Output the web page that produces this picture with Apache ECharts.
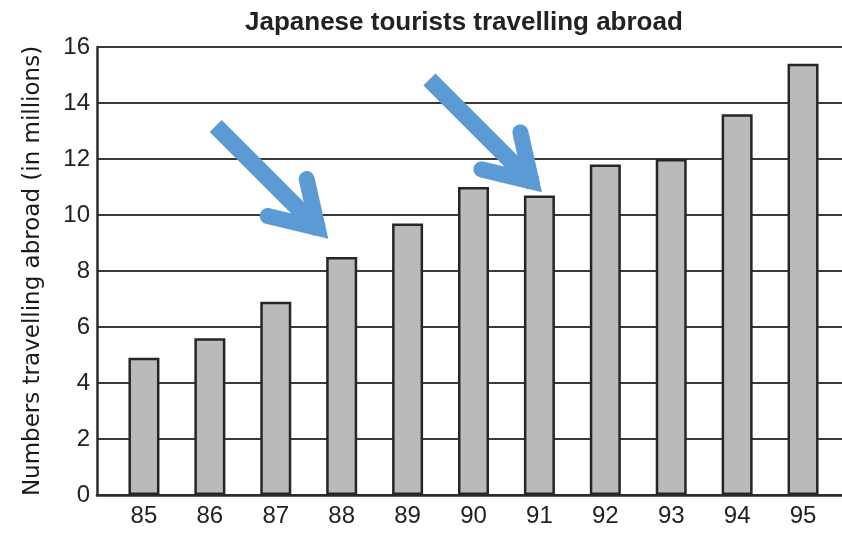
<!DOCTYPE html>
<html>
<head>
<meta charset="utf-8">
<script src="https://cdn.jsdelivr.net/npm/echarts@6/dist/echarts.min.js"></script>
<style>
  html, body { margin: 0; padding: 0; background: #ffffff; }
  #chart { width: 842px; height: 536px; }
</style>
</head>
<body>
<div id="chart"></div>
<script>
// ---- data ----
const titleText = 'Japanese tourists travelling abroad';
const yAxisName = 'Numbers travelling abroad (in millions)';
const years = ['85', '86', '87', '88', '89', '90', '91', '92', '93', '94', '95'];
const tourists = [4.9, 5.6, 6.9, 8.5, 9.7, 11.0, 10.7, 11.8, 12.0, 13.6, 15.4];
const yMin = 0;
const yMax = 16;
const yStep = 2;
const arrowTargets = ['88', '91'];

// ---- chart ----
const chart = echarts.init(document.getElementById('chart'), null, { renderer: 'canvas' });
const ink = '#2b2b2b';
const gridTop = 47, gridBottom = 41;

chart.setOption({
  backgroundColor: '#ffffff',
  animation: false,
  title: {
    text: titleText,
    left: 240,
    top: 5,
    textStyle: { fontFamily: 'Liberation Sans', fontSize: 26, fontWeight: 'bold', color: '#222' }
  },
  grid: [
    { left: 97, right: 0, top: gridTop, bottom: gridBottom },
    { left: 111, right: 6, top: gridTop, bottom: gridBottom }
  ],
  xAxis: [
    {
      gridIndex: 0, type: 'value', min: 0, max: 1,
      axisLine: { show: true, lineStyle: { color: ink, width: 2.5 } },
      axisTick: { show: false }, axisLabel: { show: false }, splitLine: { show: false }
    },
    {
      gridIndex: 1, type: 'category', data: years,
      axisLine: { show: false }, axisTick: { show: false },
      axisLabel: { margin: 9, fontFamily: 'Liberation Sans', fontSize: 24, color: '#222' }
    }
  ],
  yAxis: [
    {
      gridIndex: 0, type: 'value', min: yMin, max: yMax, interval: yStep,
      name: yAxisName, nameLocation: 'middle', nameGap: 52, nameRotate: 90,
      nameTextStyle: { fontFamily: 'DejaVu Sans', fontSize: 23, color: '#1a1a1a' },
      axisLine: { show: true, lineStyle: { color: ink, width: 2.5 } },
      axisTick: { show: false },
      axisLabel: { margin: 7, fontFamily: 'Liberation Sans', fontSize: 24, color: '#222' },
      splitLine: { show: true, lineStyle: { color: '#3a3a3a', width: 2 } }
    },
    { gridIndex: 1, type: 'value', min: yMin, max: yMax, interval: yStep, show: false, splitLine: { show: false } }
  ],
  series: [{
    type: 'bar',
    xAxisIndex: 1, yAxisIndex: 1,
    data: tourists,
    barWidth: 31,
    itemStyle: { color: '#bababa', borderColor: '#262626', borderWidth: 2.5 }
  }]
});

// ---- annotation arrows, anchored to the bars they point at ----
const tipOffsets = [[-12, -17], [4, -2]];
const arrowColor = '#5b9bd5';
const graphics = [];
arrowTargets.forEach(function (cat, k) {
  const idx = years.indexOf(cat);
  const p = chart.convertToPixel({ xAxisIndex: 1, yAxisIndex: 1 }, [idx, tourists[idx]]);
  const tx = p[0] + tipOffsets[k][0];
  const ty = p[1] + tipOffsets[k][1];
  const vx = tx - 12, vy = ty - 12;
  graphics.push({
    type: 'polyline', silent: true, z: 100,
    shape: { points: [[tx - 114, ty - 114], [vx + 2, vy + 2]] },
    style: { stroke: arrowColor, lineWidth: 17, lineCap: 'butt', fill: null }
  });
  graphics.push({
    type: 'polyline', silent: true, z: 101,
    shape: { points: [[tx - 23, ty - 61], [vx, vy], [tx - 62, ty - 24]] },
    style: { stroke: arrowColor, lineWidth: 16, lineCap: 'round', lineJoin: 'miter', miterLimit: 10, fill: null }
  });
});
chart.setOption({ graphic: graphics });
</script>
</body>
</html>
